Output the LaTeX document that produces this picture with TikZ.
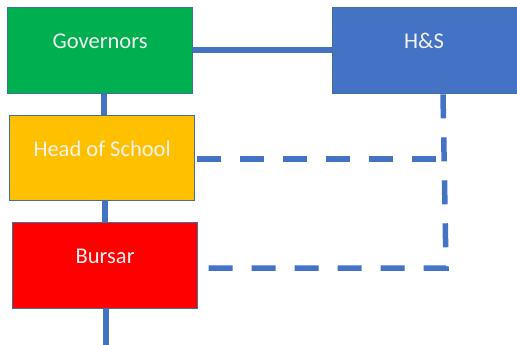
\documentclass[tikz,border=0pt]{standalone}
\usepackage{fontspec}
\setmainfont{Carlito}
\usetikzlibrary{backgrounds}
\definecolor{lineblue}{HTML}{4472C4}
\definecolor{edgeblue}{HTML}{41719C}
\definecolor{govgreen}{HTML}{00B050}
\definecolor{hosamber}{HTML}{FFC000}
\definecolor{bursred}{HTML}{FF0000}
\definecolor{txtwhite}{HTML}{F2F2F2}
\begin{document}
\begin{tikzpicture}[x=1pt,y=-1pt,
  orgbox/.style={draw=edgeblue,line width=1.3pt,minimum width=185pt,minimum height=86pt,inner sep=0pt,anchor=north west},
  boxtext/.style={text=txtwhite,font=\fontsize{22.5}{26}\selectfont,inner sep=0pt},
  solidlink/.style={draw=lineblue,line width=5.5pt},
  dashlink/.style={draw=lineblue,line width=5.5pt,dash pattern=on 24pt off 19pt}]
\useasboundingbox (0,0) rectangle (517,345);
\node[orgbox,fill=govgreen] (gov) at (7,7) {};
\node[orgbox,fill=lineblue,minimum width=190pt] (hs) at (332,7) {};
\node[orgbox,fill=hosamber,minimum height=85pt] (hos) at (9,115) {};
\node[orgbox,fill=bursred] (bur) at (12,222) {};
\node[boxtext] (govt) at ([yshift=9pt]gov.center) {Governors};
\node[boxtext] (hst) at (424,41) {H\&S};
\node[boxtext] (host) at ([yshift=9pt]hos.center) {Head of School};
\node[boxtext] (burt) at ([yshift=9pt]bur.center) {Bursar};
\coordinate (c1) at (104,0);
\coordinate (c2) at (105,0);
\coordinate (c3) at (106,0);
\coordinate (hsx) at (443,50);
\coordinate (bend1) at (436,159);
\coordinate (bend2) at (446,268);
\coordinate (bottomend) at (106,350);
\begin{scope}[on background layer]
\draw[solidlink] (gov.east |- hsx) -- (hs.west |- hsx);
\draw[solidlink] (gov.south -| c1) -- (hos.north -| c1);
\draw[solidlink] (hos.south -| c2) -- (bur.north -| c2);
\draw[solidlink] (bur.south -| c3) -- (bottomend);
\draw[dashlink] (hs.south -| hsx) -- (bend2) -- (bur.east |- bend2);
\draw[dashlink] (bend1) -- (hos.east |- bend1);
\end{scope}
\end{tikzpicture}
\end{document}
